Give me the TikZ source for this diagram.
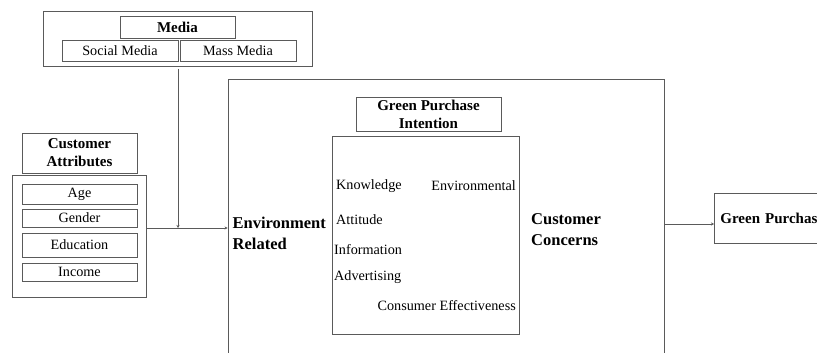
\documentclass[tikz,border=0pt]{standalone}
\usepackage{fontspec}
\setmainfont{Liberation Serif}
\usetikzlibrary{arrows.meta}
\definecolor{ln}{HTML}{5A5A5A}
\tikzset{
  box/.style={draw=ln, line width=0.8pt, inner sep=0pt, align=center},
  lbl/.style={font=\fontsize{14.2}{16}\selectfont, inner sep=0pt},
  blbl/.style={font=\fontsize{15}{18}\selectfont\bfseries, inner sep=0pt, align=center},
  big/.style={font=\fontsize{16.5}{21}\selectfont\bfseries, inner sep=0pt, align=left},
  arr/.style={draw=ln, line width=0.8pt, -{Stealth[length=3pt,width=3pt]}},
}
\begin{document}
\begin{tikzpicture}[x=1pt,y=-1pt]
\useasboundingbox (0,0) rectangle (817,353);
\clip (0,0) rectangle (817,353);
% Media
\node[box, minimum width=269pt, minimum height=55pt] (media) at (177.5,38.5) {};
\node[box, blbl, minimum width=115pt, minimum height=22pt] (mediaT) at (177.5,27) {Media};
\node[box, lbl, minimum width=116pt, minimum height=21pt] (social) at (120,50.5) {Social Media};
\node[box, lbl, minimum width=116pt, minimum height=21pt] (mass) at (238,50.5) {Mass Media};
% Customer attributes
\node[box, blbl, minimum width=115pt, minimum height=40pt] (cattr) at (79.5,153) {Customer\\Attributes};
\node[box, minimum width=134pt, minimum height=122pt] (attrbox) at (79,236) {};
\node[box, lbl, minimum width=115pt, minimum height=20pt] (age) at (79.5,194) {Age};
\node[box, lbl, minimum width=115pt, minimum height=18pt] (gender) at (79.5,218) {Gender};
\node[box, lbl, minimum width=115pt, minimum height=24pt] (edu) at (79.5,245) {Education};
\node[box, lbl, minimum width=115pt, minimum height=18pt] (income) at (79.5,272) {Income};
% Big box
\node[box, minimum width=436pt, minimum height=302pt] (bigbox) at (446,230) {};
\node[box, blbl, minimum width=145pt, minimum height=34pt] (gpiT) at (428.5,114) {Green Purchase\\Intention};
\node[box, minimum width=187pt, minimum height=198pt] (gpi) at (425.5,235) {};
\node[lbl, anchor=west] (know) at (336,186) {Knowledge};
\node[lbl, anchor=east] (envt) at (516,186) {Environmental};
\node[lbl, anchor=west] (att) at (336,220) {Attitude};
\node[lbl, anchor=west] (info) at (334,250) {Information};
\node[lbl, anchor=west] (adv) at (334,277) {Advertising};
\node[lbl, anchor=east] (ceff) at (516,306) {Consumer Effectiveness};
\node[big, anchor=west] (envrel) at (232.5,233) {Environment\\Related};
\node[big, anchor=west] (custcon) at (531,229.5) {Customer\\Concerns};
% Green purchase
\node[box, blbl, anchor=west, minimum height=50pt, minimum width=150pt, text width=138pt, align=left] (gp) at (714,218) {Green Purchas};
% Connectors
\coordinate (mtop) at (178,69);
\coordinate (j) at (178,228);
\draw[arr] (mtop) -- (j);
\draw[arr] (attrbox.east |- j) -- (j -| bigbox.west);
\coordinate (g) at (664,224);
\draw[arr] (g) -- (g -| gp.west);
\end{tikzpicture}
\end{document}
